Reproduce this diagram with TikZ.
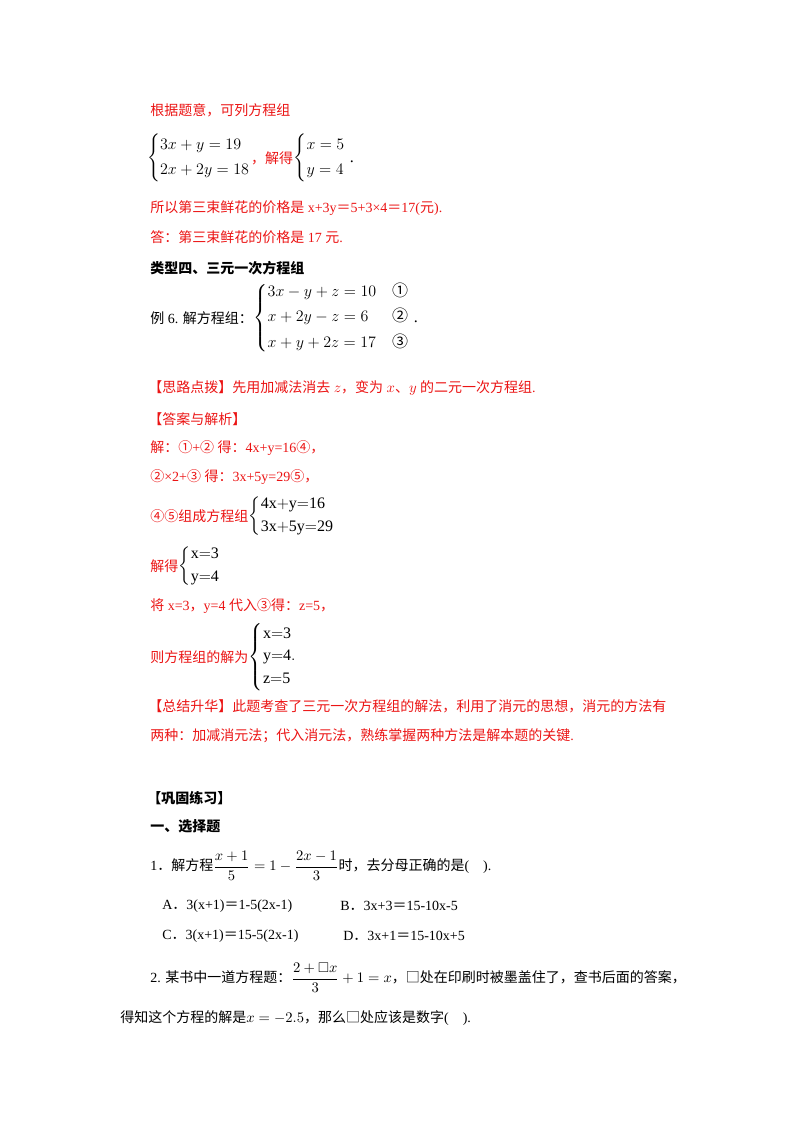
\documentclass[tikz,border=0pt]{standalone}
\usepackage{amsmath,amssymb}
\usepackage{fontspec}
\setmainfont{Liberation Serif}
\newfontfamily\cjk{Noto Sans CJK SC}
\XeTeXinterchartokenstate=1
\newXeTeXintercharclass\cjkcls
\XeTeXcharclass"3000=\cjkcls
\count255="3001 \loop\ifnum\count255<"3040 \XeTeXcharclass\count255=\cjkcls \advance\count255 by 1 \repeat
\count255="4E00 \loop\ifnum\count255<"A000 \XeTeXcharclass\count255=\cjkcls \advance\count255 by 1 \repeat
\count255="FF01 \loop\ifnum\count255<"FF60 \XeTeXcharclass\count255=\cjkcls \advance\count255 by 1 \repeat
\count255="2460 \loop\ifnum\count255<"2474 \XeTeXcharclass\count255=\cjkcls \advance\count255 by 1 \repeat
\XeTeXcharclass"25A1=\cjkcls
\XeTeXinterchartoks 0 \cjkcls = {\cjk}
\XeTeXinterchartoks 4095 \cjkcls = {\cjk}
\XeTeXinterchartoks \cjkcls 0 = {\rmfamily}
\XeTeXinterchartoks \cjkcls 4095 = {\rmfamily}
\definecolor{ans}{RGB}{235,20,20}
\tikzset{
  txt/.style={anchor=west,inner sep=0pt,font=\fontsize{10.5}{13}\selectfont},
  red/.style={txt,text=ans},
  hd/.style={txt,font=\fontsize{10.5}{13}\selectfont\bfseries},
  sys/.style={txt,font=\fontsize{12}{14}\selectfont}
}
\begin{document}
\begin{tikzpicture}[x=0.75pt,y=0.75pt]
\useasboundingbox (0,0) rectangle (800,-1132);
% worked answer of the previous example
\node[red] (t1) at (150,-110) {根据题意，可列方程组};
\node[sys] (s1) at (147,-158) {$\left\{\begin{array}{@{}l@{}}3x+y=19\\[5pt]2x+2y=18\end{array}\right.$};
\node[red] (t2) at (s1.east) {，解得};
\node[sys] (s2) at (t2.east) {$\left\{\begin{array}{@{}l@{}}x=5\\[5pt]y=4\end{array}\right.$ .};
\node[red] (t3) at (150,-208) {所以第三束鲜花的价格是 x+3y＝5+3×4＝17(元).};
\node[red] (t4) at (150,-237) {答：第三束鲜花的价格是 17 元.};
% type four
\node[hd] (h1) at (150,-268) {类型四、三元一次方程组};
\node[txt] (e6) at (150,-318) {例 6. 解方程组：};
\node[sys] (s3) at (e6.east) {$\left\{\begin{array}{@{}l@{\quad}l@{}}3x-y+z=10 & \text{①}\\[5pt]x+2y-z=6 & \text{②}\\[5pt]x+y+2z=17 & \text{③}\end{array}\right.$ .};
\node[red] (k1) at (148,-388) {【思路点拨】先用加减法消去 $z$，变为 $x$、$y$ 的二元一次方程组.};
\node[red] (k2) at (148,-419) {【答案与解析】};
\node[red] (a1) at (150,-448) {解：①+② 得：4x+y=16④，};
\node[red] (a2) at (150,-477) {②×2+③ 得：3x+5y=29⑤，};
\node[red] (a3) at (150,-516) {④⑤组成方程组};
\node[sys] (s4) at (a3.east) {$\left\{\begin{array}{@{}l@{}}\mathrm{4x{+}y{=}16}\\[3pt]\mathrm{3x{+}5y{=}29}\end{array}\right.$};
\node[red] (a4) at (150,-566) {解得};
\node[sys] (s5) at (a4.east) {$\left\{\begin{array}{@{}l@{}}\mathrm{x{=}3}\\[3pt]\mathrm{y{=}4}\end{array}\right.$};
\node[red] (a5) at (150,-606) {将 x=3，y=4 代入③得：z=5，};
\node[red] (a6) at (150,-657) {则方程组的解为};
\node[sys] (s6) at (a6.east) {$\left\{\begin{array}{@{}l@{}}\mathrm{x{=}3}\\[3pt]\mathrm{y{=}4}.\\[3pt]\mathrm{z{=}5}\end{array}\right.$};
\node[red] (a7) at (148,-706) {【总结升华】此题考查了三元一次方程组的解法，利用了消元的思想，消元的方法有};
\node[red] (a8) at (150,-736) {两种：加减消元法；代入消元法，熟练掌握两种方法是解本题的关键.};
% exercises
\node[hd] (h2) at (147,-798) {【巩固练习】};
\node[hd] (h3) at (150,-826) {一、选择题};
\node[txt] (q1) at (150,-866) {1．解方程$\dfrac{x+1}{5}=1-\dfrac{2x-1}{3}$时，去分母正确的是(\quad ).};
\foreach \lab/\x/\y/\eq in {A/162/906/{3(x+1)＝1-5(2x-1)},B/340/906/{3x+3＝15-10x-5},
                            C/162/936/{3(x+1)＝15-5(2x-1)},D/343/936/{3x+1＝15-10x+5}}{
  \node[txt] (o\lab) at (\x,-\y) {\lab．\eq};
}
\node[txt] (q2) at (150,-978) {2. 某书中一道方程题：$\dfrac{2+\square x}{3}+1=x$，□处在印刷时被墨盖住了，查书后面的答案，};
\node[txt] (q3) at (120,-1018) {得知这个方程的解是$x=-2.5$，那么□处应该是数字(\quad ).};
\end{tikzpicture}
\end{document}
